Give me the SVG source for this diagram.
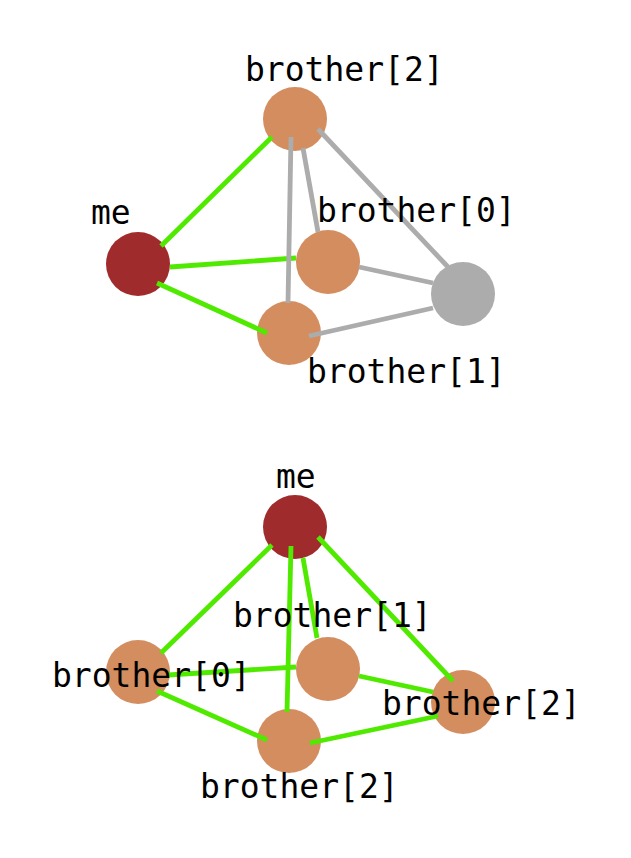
<svg xmlns="http://www.w3.org/2000/svg" width="631" height="858" viewBox="0 0 631 858">
<style>
.me{fill:#a02b2c}
.br{fill:#d38d5f}
.gr{fill:#acacac}
.eg{stroke:#4fea00;stroke-width:4.8;fill:none}
.ey{stroke:#acacac;stroke-width:4.8;fill:none}
text{font-family:"DejaVu Sans Mono","Liberation Mono",monospace;font-size:33px;fill:#000}
</style>
<rect width="631" height="858" fill="#fff"/>
<!-- top diagram nodes -->
<g id="t-me"><circle class="me" cx="138" cy="264" r="32"/></g>
<g id="t-b2"><circle class="br" cx="295" cy="119" r="32"/></g>
<g id="t-b0"><circle class="br" cx="328" cy="262" r="32"/></g>
<g id="t-b1"><circle class="br" cx="289" cy="333" r="32"/></g>
<g id="t-gray"><circle class="gr" cx="463" cy="294" r="32"/></g>
<g id="top-edges">
<line class="eg" x1="161" y1="246" x2="272" y2="137"/>
<line class="eg" x1="170" y1="267" x2="296" y2="258"/>
<line class="eg" x1="157" y1="283" x2="267" y2="333"/>
<line class="ey" x1="291" y1="137" x2="288" y2="303"/>
<line class="ey" x1="303" y1="148" x2="318" y2="232"/>
<line class="ey" x1="318" y1="129" x2="448" y2="267"/>
<line class="ey" x1="359" y1="267" x2="433" y2="283"/>
<line class="ey" x1="433" y1="308" x2="309" y2="336"/>
</g>
<g id="top-labels">
<text x="245" y="81">brother[2]</text>
<text x="91" y="224">me</text>
<text x="317" y="222">brother[0]</text>
<text x="307" y="383">brother[1]</text>
</g>
<!-- bottom diagram nodes -->
<g id="b-me"><circle class="me" cx="295" cy="527" r="32"/></g>
<g id="b-b0"><circle class="br" cx="138" cy="672" r="32"/></g>
<g id="b-b1"><circle class="br" cx="328" cy="669" r="32"/></g>
<g id="b-b2a"><circle class="br" cx="289" cy="741" r="32"/></g>
<g id="b-b2b"><circle class="br" cx="463" cy="702" r="32"/></g>
<g id="bottom-edges">
<line class="eg" x1="272" y1="545" x2="161" y2="653"/>
<line class="eg" x1="291" y1="546" x2="287" y2="712"/>
<line class="eg" x1="303" y1="558" x2="317" y2="638"/>
<line class="eg" x1="318" y1="537" x2="453" y2="681"/>
<line class="eg" x1="168" y1="675" x2="296" y2="667"/>
<line class="eg" x1="157" y1="691" x2="267" y2="740"/>
<line class="eg" x1="359" y1="676" x2="433" y2="692"/>
<line class="eg" x1="310" y1="743" x2="438" y2="716"/>
</g>
<g id="bottom-labels">
<text x="276" y="488">me</text>
<text x="233" y="627">brother[1]</text>
<text x="52" y="687">brother[0]</text>
<text x="382" y="715">brother[2]</text>
<text x="200" y="798">brother[2]</text>
</g>
</svg>
